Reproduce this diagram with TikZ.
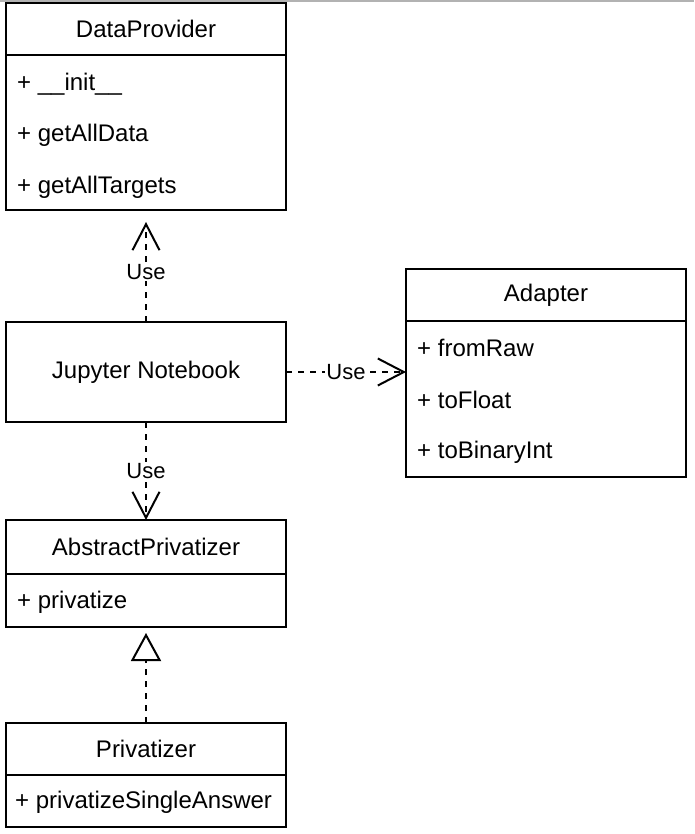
\documentclass[tikz,border=0pt]{standalone}
\usepackage{fontspec}
\setmainfont{Liberation Sans}
\usetikzlibrary{arrows.meta}
\begin{document}
\begin{tikzpicture}[x=1pt,y=-1pt,
  box/.style={draw=black,line width=2pt,fill=white,inner sep=0pt,outer sep=0pt,minimum width=280pt,font=\fontsize{24}{28}\selectfont},
  item/.style={anchor=west,inner sep=0pt,font=\fontsize{24}{28}\selectfont},
  dep/.style={line width=2pt,dash pattern=on 6pt off 6pt,-{Straight Barb[length=26pt,width=27pt,line width=2pt]}},
  gen/.style={line width=2pt,dash pattern=on 6pt off 6pt,-{Triangle[open,length=28pt,width=30pt,line width=2pt,fill=white]}},
  lbl/.style={fill=white,inner sep=1pt,font=\fontsize{22}{26}\selectfont}]
\useasboundingbox (0,0) rectangle (694,834);
\draw[line width=2pt,gray!60] (0,1) -- (694,1);
% DataProvider
\node[box,minimum height=52pt] (dph) at (146,29) {DataProvider};
\node[box,minimum height=155pt] (dpb) at (146,132.5) {};
\node[item] (dp1) at (17,84) {+ \_\_init\_\_};
\node[item] (dp2) at (17,135) {+ getAllData};
\node[item] (dp3) at (17,187) {+ getAllTargets};
% Jupyter
\node[box,minimum height=100pt] (jn) at (146,372) {Jupyter Notebook};
% Adapter
\node[box,minimum height=52pt] (adh) at (546,295) {Adapter};
\node[box,minimum height=156pt] (adb) at (546,399) {};
\node[item] (ad1) at (417,348) {+ fromRaw};
\node[item] (ad2) at (417,400) {+ toFloat};
\node[item] (ad3) at (417,452) {+ toBinaryInt};
% AbstractPrivatizer
\node[box,minimum height=54pt] (aph) at (146,547) {AbstractPrivatizer};
\node[box,minimum height=53pt] (apb) at (146,600.5) {};
\node[item] (ap1) at (17,602) {+ privatize};
% Privatizer
\node[box,minimum height=52pt] (pvh) at (146,749) {Privatizer};
\node[box,minimum height=52pt] (pvb) at (146,801) {};
\node[item] (pv1) at (15,802) {+ privatizeSingleAnswer};
% connectors
\coordinate (dptip) at ([yshift=-12pt]dpb.south);
\coordinate (aptip) at ([yshift=-6pt]apb.south);
\draw[dep] (jn.north) -- node[lbl] {Use} (dptip);
\draw[dep] (jn.east) -- node[lbl] {Use} (adb.west |- jn.east);
\draw[dep] (jn.south) -- node[lbl] {Use} (aph.north);
\draw[gen] (pvh.north) -- (aptip);
\end{tikzpicture}
\end{document}
